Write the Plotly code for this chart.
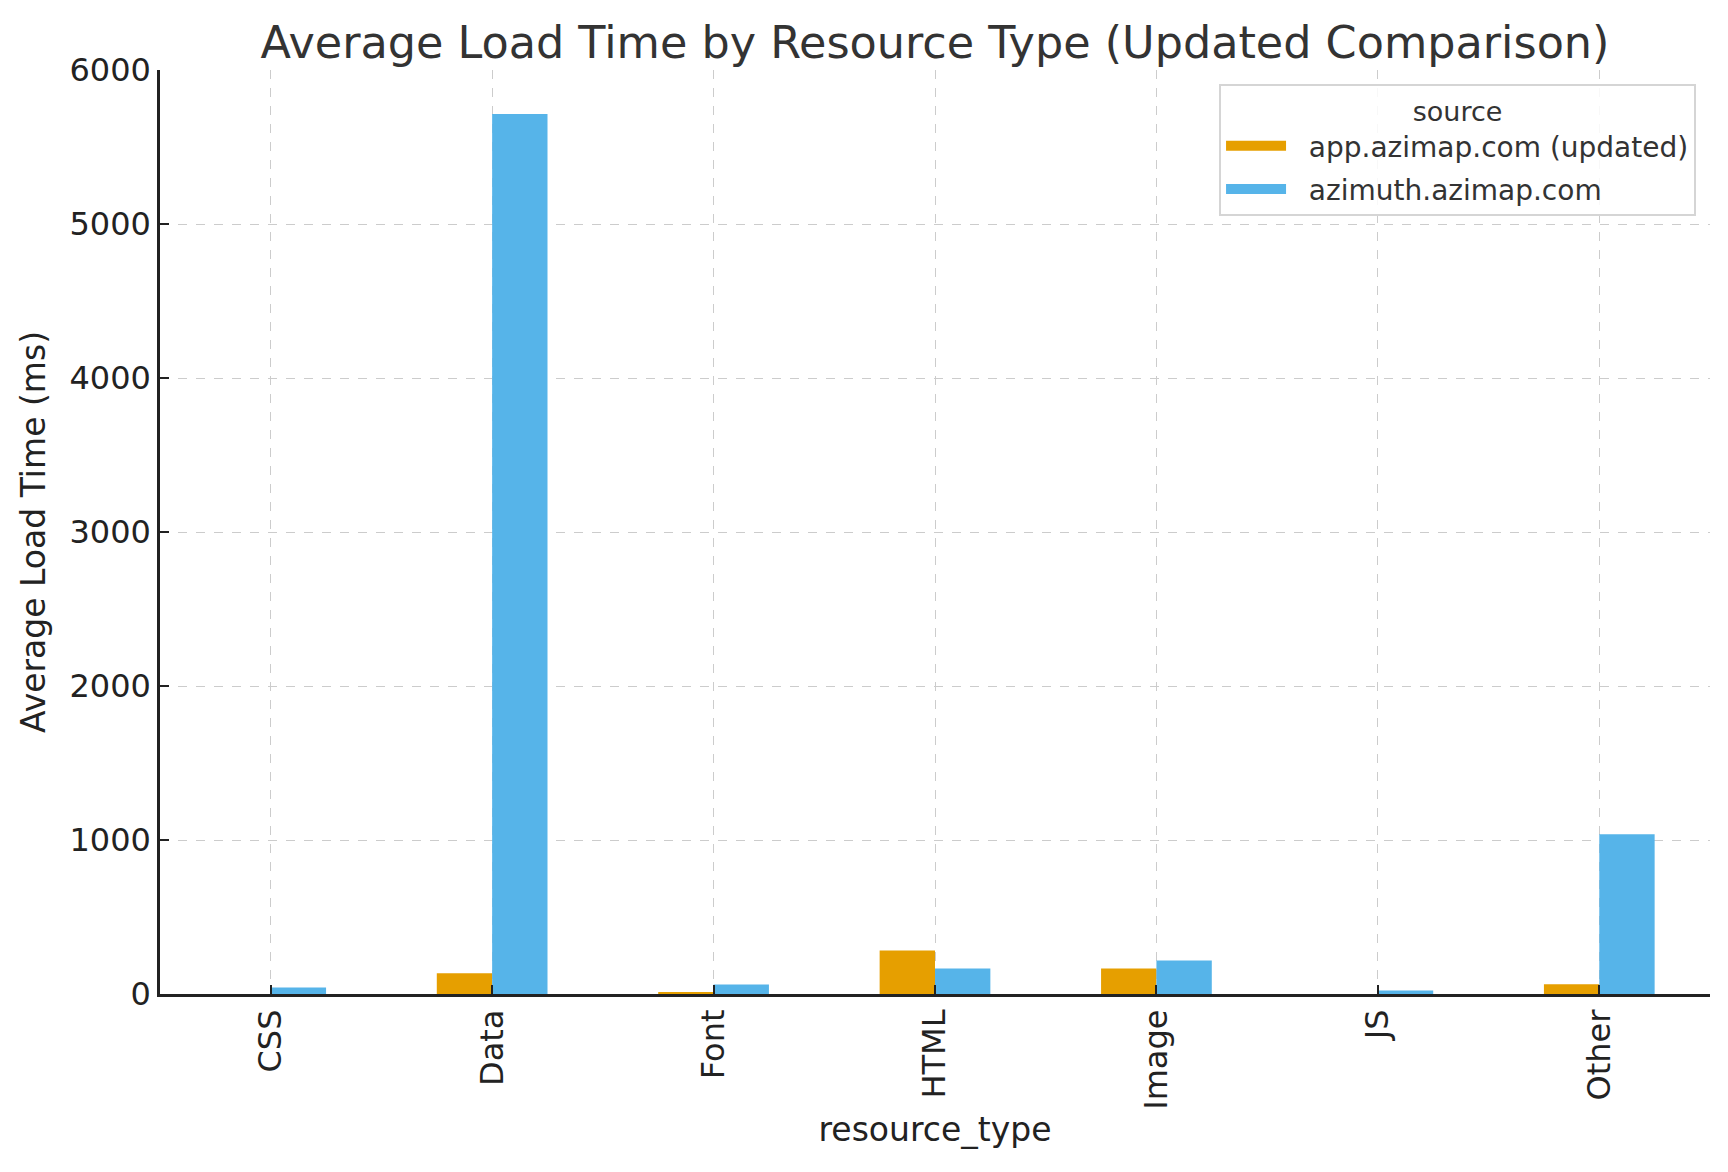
import plotly.graph_objects as go

categories = ["CSS", "Data", "Font", "HTML", "Image", "JS", "Other"]
app_updated = [0, 135, 12, 282, 166, 0, 63]
azimuth = [42, 5714, 62, 166, 218, 23, 1037]
series_names = ["app.azimap.com (updated)", "azimuth.azimap.com"]
colors = ["#E69F00", "#56B4E9"]
y_ticks = [0, 1000, 2000, 3000, 4000, 5000, 6000]

FONT = "DejaVu Sans"
PAD = "\u00a0\u00a0"

fig = go.Figure()
for name, vals, col in zip(series_names, [app_updated, azimuth], colors):
    fig.add_trace(go.Bar(x=categories, y=vals, name=name, legendgroup=name, showlegend=False,
                         marker=dict(color=col, line=dict(width=0))))
# legend-only entries with wide rectangular swatches
for name, col in zip(series_names, colors):
    fig.add_trace(go.Scatter(x=[None], y=[None], mode="lines", name=PAD + name, legendgroup=name,
                             line=dict(color=col, width=20)))

fig.update_layout(
    width=1728, height=1172,
    barmode="group", bargap=0.5, bargroupgap=0,
    plot_bgcolor="white", paper_bgcolor="white",
    margin=dict(l=160, r=18, t=70, b=178),
    font=dict(family=FONT, color="#222222", size=28),
    title=dict(text="Average Load Time by Resource Type (Updated Comparison)",
               x=0.5, xanchor="center", xref="paper", y=0.964, yanchor="middle",
               font=dict(size=44.5, color="#333333", family=FONT)),
    legend=dict(
        title=dict(text="source", side="top center", font=dict(size=27, color="#333333")),
        font=dict(size=28, color="#333333"),
        x=0.991, xanchor="right", y=0.985, yanchor="top",
        bgcolor="rgba(255,255,255,0.85)", bordercolor="#D5D5D5", borderwidth=2,
        itemwidth=60, tracegroupgap=4,
    ),
)
fig.update_xaxes(
    title=dict(text="resource_type", font=dict(size=33), standoff=10),
    tickangle=-90, tickfont=dict(size=32),
    showgrid=True, gridcolor="#CCCCCC", griddash="dash", gridwidth=1,
    showline=True, linecolor="#222222", linewidth=2.5,
    ticks="inside", ticklen=9, tickwidth=2, tickcolor="#222222",
    range=[-0.5, 6.5],
)
fig.update_yaxes(
    title=dict(text="Average Load Time (ms)", font=dict(size=33), standoff=14),
    tickvals=y_ticks, tickfont=dict(size=32),
    showgrid=True, gridcolor="#CCCCCC", griddash="dash", gridwidth=1,
    showline=True, linecolor="#222222", linewidth=2.5,
    ticks="inside", ticklen=9, tickwidth=2, tickcolor="#222222",
    range=[0, 6000], zeroline=False,
)
fig.write_html("out.html", config={"displayModeBar": False},
               post_script="document.body.style.margin='0';")
